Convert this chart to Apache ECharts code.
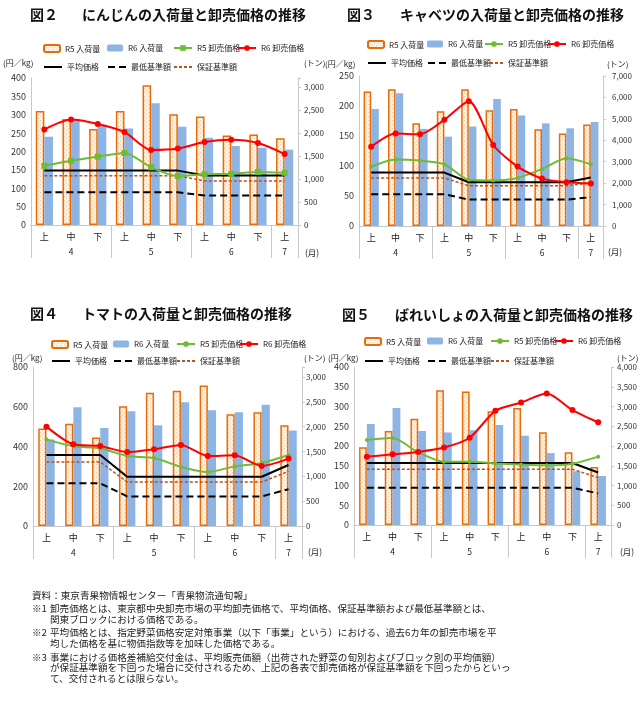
<!DOCTYPE html>
<html><head><meta charset="utf-8">
<script src="https://cdn.jsdelivr.net/npm/echarts@6/dist/echarts.min.js"></script>
<style>html,body{margin:0;padding:0;background:#fff}#c{width:640px;height:703px}</style>
</head><body><div id="c"></div>
<script>
// ---- categories ----
const cats = ['上','中','下','上','中','下','上','中','下','上'];
const months = ['', '4', '', '', '5', '', '', '6', '', '7'];
const legendLabels = ['R5 入荷量','R6 入荷量','R5 卸売価格','R6 卸売価格','平均価格','最低基準額','保証基準額'];

// ---- 図2 にんじん ----
const ninjinR5Vol   = [2480, 2310, 2090, 2480, 3040, 2410, 2360, 1950, 1970, 1890];
const ninjinR6Vol   = [1920, 2310, 2180, 2100, 2650, 2140, 1900, 1720, 1680, 1640];
const ninjinR5Price = [161, 175, 186, 196, 157, 133, 138, 139, 144, 142];
const ninjinR6Price = [260, 287, 275, 253, 204, 208, 226, 232, 223, 193];
const ninjinAvg     = [148, 148, 148, 148, 148, 148, 135, 135, 135, 135];
const ninjinMin     = [89, 89, 89, 89, 89, 89, 80, 80, 80, 80];
const ninjinGuar    = [134, 134, 134, 134, 134, 134, 120, 120, 120, 120];

// ---- 図3 キャベツ ----
const cabbageR5Vol   = [6280, 6380, 4790, 5350, 6380, 5400, 5460, 4510, 4320, 4740];
const cabbageR6Vol   = [5460, 6190, 4530, 4170, 4640, 5930, 5160, 4790, 4560, 4850];
const cabbageR5Price = [99, 111, 109, 103, 77, 76, 80, 95, 113, 103];
const cabbageR6Price = [132, 154, 153, 177, 208, 135, 99, 79, 73, 71];
const cabbageAvg     = [89, 89, 89, 89, 73, 73, 73, 73, 73, 81];
const cabbageMin     = [53, 53, 53, 53, 44, 44, 44, 44, 44, 48];
const cabbageGuar    = [80, 80, 80, 80, 67, 67, 67, 67, 67, 72];

// ---- 図4 トマト ----
const tomatoR5Vol   = [1960, 2060, 1780, 2410, 2680, 2720, 2830, 2250, 2290, 2030];
const tomatoR6Vol   = [1740, 2390, 1970, 2310, 2030, 2490, 2330, 2290, 2440, 1920];
const tomatoR5Price = [436, 401, 391, 352, 342, 297, 272, 300, 317, 357];
const tomatoR6Price = [500, 411, 403, 372, 386, 408, 352, 356, 302, 339];
const tomatoAvg     = [357, 357, 357, 248, 248, 248, 248, 248, 248, 307];
const tomatoMin     = [215, 215, 215, 149, 149, 149, 149, 149, 149, 185];
const tomatoGuar    = [322, 322, 322, 221, 221, 221, 221, 221, 221, 275];

// ---- 図5 ばれいしょ ----
const potatoR5Vol   = [1970, 2380, 2690, 3410, 3380, 2880, 2960, 2350, 1840, 1470];
const potatoR6Vol   = [2560, 2960, 2380, 2340, 2400, 2530, 2260, 1820, 1360, 1240];
const potatoR5Price = [215, 220, 184, 160, 160, 156, 153, 151, 155, 173];
const potatoR6Price = [173, 179, 185, 196, 221, 289, 310, 333, 291, 260];
const potatoAvg     = [157, 157, 157, 157, 157, 157, 157, 157, 157, 133];
const potatoMin     = [94, 94, 94, 94, 94, 94, 94, 94, 94, 80];
const potatoGuar    = [141, 141, 141, 141, 141, 141, 141, 141, 141, 120];

// ---- axis tick settings ----
const leftAxisMax   = [400, 250, 800, 400];
const leftAxisStep  = [50, 50, 200, 50];
const rightAxisMax  = [3200, 7000, 3200, 4000];
const rightAxisStep = [500, 1000, 500, 500];

const charts = [
  {r5v: ninjinR5Vol, r6v: ninjinR6Vol, r5p: ninjinR5Price, r6p: ninjinR6Price, avg: ninjinAvg, min: ninjinMin, guar: ninjinGuar},
  {r5v: cabbageR5Vol, r6v: cabbageR6Vol, r5p: cabbageR5Price, r6p: cabbageR6Price, avg: cabbageAvg, min: cabbageMin, guar: cabbageGuar},
  {r5v: tomatoR5Vol, r6v: tomatoR6Vol, r5p: tomatoR5Price, r6p: tomatoR6Price, avg: tomatoAvg, min: tomatoMin, guar: tomatoGuar},
  {r5v: potatoR5Vol, r6v: potatoR6Vol, r5p: potatoR5Price, r6p: potatoR6Price, avg: potatoAvg, min: potatoMin, guar: potatoGuar}
];

// ---- layout (pixels) ----
const layout = [
  {l: 31, r: 298, t: 78, b: 225, bw: 8.6, rm: 6, leg: [49, 68], legX: [43, 107, 173, 237], unitY: 63, unitL: 3, unitR: 304, tsuki: [305, 253], greenSym: 'rect', greenSize: 6},
  {l: 359, r: 603, t: 76, b: 226, bw: 7.6, rm: 9, leg: [45, 64], legX: [367, 427, 484, 547], unitY: 64, unitL: 325, unitR: 607, tsuki: [608, 252], greenSym: 'circle', greenSize: 4},
  {l: 33, r: 302, t: 367, b: 526, bw: 8.2, rm: 4, leg: [345, 362], legX: [51, 113, 176, 239], unitY: 358, unitL: 12, unitR: 304, tsuki: [308, 552], greenSym: 'circle', greenSize: 4},
  {l: 354, r: 612, t: 367, b: 525, bw: 7.8, rm: 6, leg: [342, 362], legX: [364, 427, 490, 554], unitY: 358, unitL: 328, unitR: 617, tsuki: [620, 552], greenSym: 'circle', greenSize: 4}
];

// dotted peach pattern for R5 bars
const pc = document.createElement('canvas');
pc.width = 4; pc.height = 4;
const pctx = pc.getContext('2d');
pctx.fillStyle = '#fef3e8'; pctx.fillRect(0, 0, 4, 4);
pctx.fillStyle = '#f6c9a0';
pctx.fillRect(0, 0, 1, 1); pctx.fillRect(2, 2, 1, 1);
const peach = {image: pc, repeat: 'repeat'};

const FONT = '"Noto Sans CJK JP", "Noto Sans", sans-serif';
const grid = [], xAxis = [], yAxis = [], series = [], legend = [], graphic = [];
const nameMap = {};

charts.forEach((d, k) => {
  const L = layout[k];
  grid.push({left: L.l, top: L.t, width: L.r - L.l, height: L.b - L.t, containLabel: false});
  xAxis.push({
    type: 'category', gridIndex: k, position: 'bottom', data: cats,
    axisLine: {lineStyle: {color: '#c8c8c8', width: 1}},
    axisTick: {show: true, length: 33, lineStyle: {color: '#c8c8c8'}, interval: (i) => i % 3 === 0},
    axisLabel: {interval: 0, fontSize: 9, color: '#222', margin: 7}
  });
  xAxis.push({
    type: 'category', gridIndex: k, position: 'bottom', data: months,
    axisLine: {show: false}, axisTick: {show: false},
    axisLabel: {interval: 0, fontSize: 8.5, color: '#222', margin: 23}
  });
  yAxis.push({
    type: 'value', gridIndex: k, position: 'left', min: 0, max: leftAxisMax[k], interval: leftAxisStep[k],
    axisLine: {show: true, lineStyle: {color: '#c8c8c8'}},
    axisTick: {show: false},
    splitLine: {show: false},
    axisLabel: {fontSize: 9, color: '#333', margin: 5}
  });
  yAxis.push({
    type: 'value', gridIndex: k, position: 'right', min: 0, max: rightAxisMax[k], interval: rightAxisStep[k],
    axisLine: {show: true, lineStyle: {color: '#c8c8c8'}},
    axisTick: {show: true, length: 3, lineStyle: {color: '#c8c8c8'}},
    splitLine: {show: false},
    axisLabel: {fontSize: 8, color: '#333', margin: L.rm,
      formatter: (v) => (v % rightAxisStep[k] === 0 ? v.toLocaleString('en-US') : '')}
  });

  const names = ['r5v', 'r6v', 'r5p', 'r6p', 'avg', 'min', 'guar'].map(s => 'c' + k + '_' + s);
  names.forEach((n, i) => { nameMap[n] = legendLabels[i]; });

  series.push({name: names[0], type: 'bar', xAxisIndex: 2 * k, yAxisIndex: 2 * k + 1, data: d.r5v,
    barWidth: L.bw, barGap: '0%', itemStyle: {color: peach, borderColor: '#e46c0a', borderWidth: 1.5}});
  series.push({name: names[1], type: 'bar', xAxisIndex: 2 * k, yAxisIndex: 2 * k + 1, data: d.r6v,
    barWidth: L.bw, barGap: '0%', itemStyle: {color: '#8db4e2'}});
  series.push({name: names[2], type: 'line', xAxisIndex: 2 * k, yAxisIndex: 2 * k, data: d.r5p, smooth: 0.25,
    symbol: L.greenSym, symbolSize: L.greenSize, itemStyle: {color: '#70bb35'}, lineStyle: {color: '#70bb35', width: 2}, z: 4});
  series.push({name: names[3], type: 'line', xAxisIndex: 2 * k, yAxisIndex: 2 * k, data: d.r6p, smooth: 0.25,
    symbol: 'circle', symbolSize: 6, itemStyle: {color: '#ff0000'}, lineStyle: {color: '#ff0000', width: 2}, z: 5});
  series.push({name: names[4], type: 'line', xAxisIndex: 2 * k, yAxisIndex: 2 * k, data: d.avg,
    symbol: 'none', itemStyle: {color: '#000'}, lineStyle: {color: '#000', width: 2}, z: 3});
  series.push({name: names[5], type: 'line', xAxisIndex: 2 * k, yAxisIndex: 2 * k, data: d.min,
    symbol: 'none', itemStyle: {color: '#000'}, lineStyle: {color: '#000', width: 2, type: [7, 4]}, z: 3});
  series.push({name: names[6], type: 'line', xAxisIndex: 2 * k, yAxisIndex: 2 * k, data: d.guar,
    symbol: 'none', itemStyle: {color: '#b4541e'}, lineStyle: {color: '#b4541e', width: 1.5, type: [3, 2]}, z: 3});

  names.forEach((n, i) => {
    const row = i < 4 ? 0 : 1;
    const col = i < 4 ? i : i - 4;
    const item = {name: n};
    if (i >= 4) item.itemStyle = {opacity: 0};
    legend.push({
      left: L.legX[col], top: L.leg[row] - 5, padding: 0,
      itemWidth: i < 2 ? 16 : 18, itemHeight: 7, data: [item],
      formatter: (nm) => nameMap[nm],
      textStyle: {fontSize: 8, color: '#222', fontFamily: FONT},
      selectedMode: false
    });
  });

  graphic.push({type: 'text', x: L.unitL, y: L.unitY, style: {text: '(円／kg)', fill: '#222', font: '8px ' + FONT, verticalAlign: 'middle'}});
  graphic.push({type: 'text', x: L.unitR, y: L.unitY, style: {text: '(トン)', fill: '#222', font: '8px ' + FONT, verticalAlign: 'middle'}});
  graphic.push({type: 'text', x: L.tsuki[0], y: L.tsuki[1], style: {text: '(月)', fill: '#222', font: '8.5px ' + FONT, verticalAlign: 'middle'}});
});

// titles
const titles = [
  ['図２', 30, 'にんじんの入荷量と卸売価格の推移', 82, 15],
  ['図３', 347, 'キャベツの入荷量と卸売価格の推移', 400, 15],
  ['図４', 30, 'トマトの入荷量と卸売価格の推移', 82, 314],
  ['図５', 342, 'ばれいしょの入荷量と卸売価格の推移', 395, 315]
];
titles.forEach(t => {
  graphic.push({type: 'text', x: t[1], y: t[4], style: {text: t[0], font: 'bold 14px ' + FONT, fill: '#111', verticalAlign: 'middle'}});
  graphic.push({type: 'text', x: t[3], y: t[4], style: {text: t[2], font: 'bold 14px ' + FONT, fill: '#111', verticalAlign: 'middle'}});
});

// notes
const notes = [
  [32, 595, '資料：東京青果物情報センター「青果物流通旬報」'],
  [32, 608, '※1'], [50, 608, '卸売価格とは、東京都中央卸売市場の平均卸売価格で、平均価格、保証基準額および最低基準額とは、'],
  [50, 619, '関東ブロックにおける価格である。'],
  [32, 632, '※2'], [50, 632, '平均価格とは、指定野菜価格安定対策事業（以下「事業」という）における、過去6カ年の卸売市場を平'],
  [50, 643, '均した価格を基に物価指数等を加味した価格である。'],
  [32, 657, '※3'], [50, 657, '事業における価格差補給交付金は、平均販売価額（出荷された野菜の旬別およびブロック別の平均価額）'],
  [50, 667, 'が保証基準額を下回った場合に交付されるため、上記の各表で卸売価格が保証基準額を下回ったからといっ'],
  [50, 678, 'て、交付されるとは限らない。']
];
notes.forEach(n => {
  graphic.push({type: 'text', x: n[0], y: n[1], style: {text: n[2], font: '9.6px ' + FONT, fill: '#222', verticalAlign: 'middle'}});
});

const chart = echarts.init(document.getElementById('c'), null, {renderer: 'canvas'});
chart.setOption({
  animation: false,
  backgroundColor: '#fff',
  textStyle: {fontFamily: FONT},
  grid, xAxis, yAxis, series, legend, graphic
});
</script>
</body></html>
